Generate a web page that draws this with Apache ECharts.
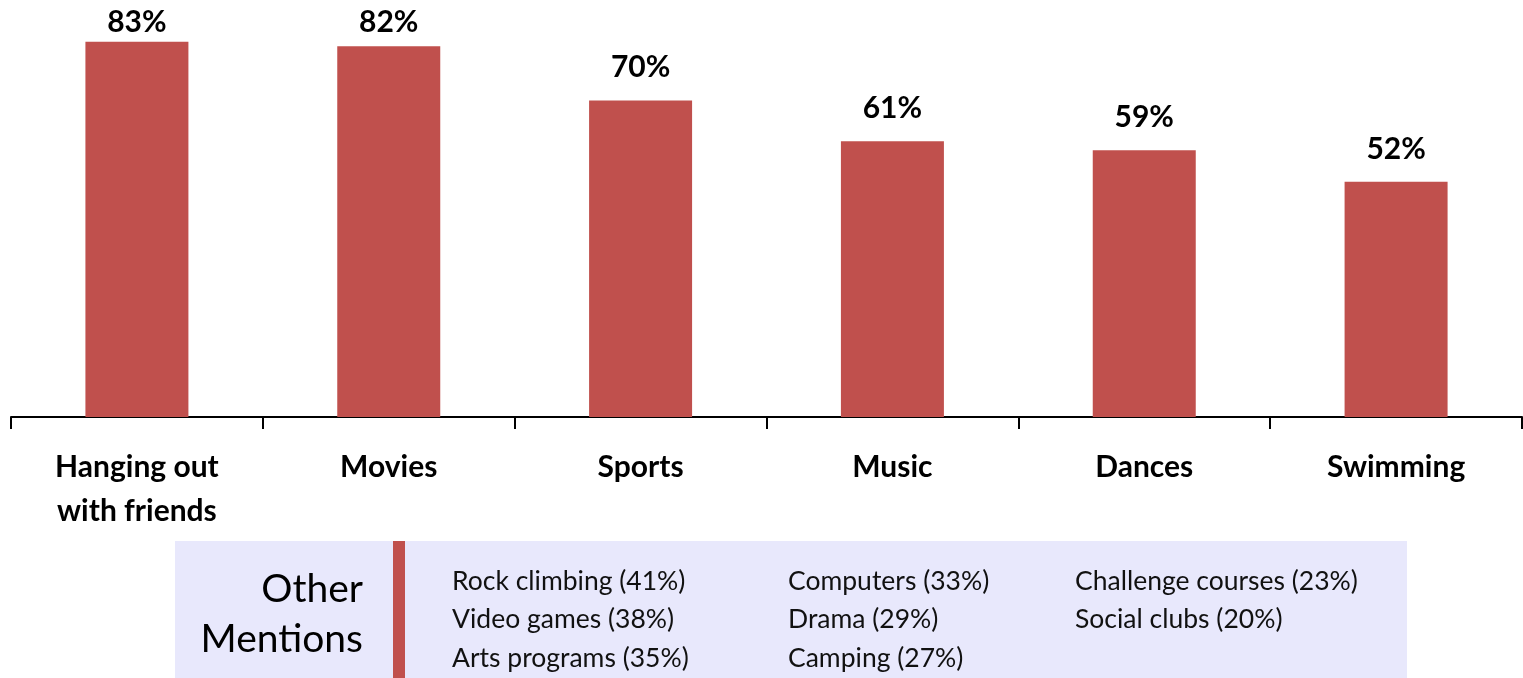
<!DOCTYPE html>
<html>
<head>
<meta charset="utf-8">
<style>
  html, body { margin: 0; padding: 0; background: #fff; }
  #chart { width: 1523px; height: 678px; }
</style>
<script src="https://cdn.jsdelivr.net/npm/echarts@6/dist/echarts.min.js"></script>
</head>
<body>
<div id="chart"></div>
<script>
// main bars
const categories = ["Hanging out\nwith friends", "Movies", "Sports", "Music", "Dances", "Swimming"];
const shares = [83, 82, 70, 61, 59, 52];

// "Other Mentions" box, one list per column
const otherTitle = ["Other", "Mentions"];
const otherCol1 = ["Rock climbing (41%)", "Video games (38%)", "Arts programs (35%)"];
const otherCol2 = ["Computers (33%)", "Drama (29%)", "Camping (27%)"];
const otherCol3 = ["Challenge courses (23%)", "Social clubs (20%)"];

const font = "Lato, 'Noto Sans', sans-serif";
const red = "#c0504d";

// plot area
const gridTop = 10, gridBottom = 261, yMax = 90;
const axisY = 678 - gridBottom;
const pxPerUnit = (axisY - gridTop) / yMax;

// value labels sit 18px above the bar, but never rise past the top of the picture
const labelDist = (v) => Math.max(4, Math.min(18, axisY - v * pxPerUnit - 15 - 22));

const colX = [452, 788, 1075];
const listText = (col, i) => ({
  type: "text",
  x: colX[i],
  y: 562,
  style: {
    text: col.join("\n"),
    font: "26.5px " + font,
    lineHeight: 38.5,
    fill: "#111",
  },
});
const titleText = (t, i) => ({
  type: "text",
  x: 363,
  y: 589 + i * 50,
  style: { text: t, font: "39px " + font, align: "right", verticalAlign: "middle", fill: "#000" },
});

const chart = echarts.init(document.getElementById("chart"));
chart.setOption({
  animation: false,
  grid: { left: 11, right: 1, top: gridTop, bottom: gridBottom },
  xAxis: {
    type: "category",
    data: categories,
    axisLine: { lineStyle: { color: "#000", width: 2 } },
    axisTick: { show: true, length: 12, lineStyle: { color: "#000", width: 2 } },
    axisLabel: {
      interval: 0,
      margin: 28,
      fontFamily: font,
      fontWeight: "bold",
      fontSize: 30,
      lineHeight: 44,
      color: "#000",
    },
  },
  yAxis: { type: "value", min: 0, max: yMax, show: false, splitLine: { show: false } },
  series: [
    {
      type: "bar",
      data: shares.map((v) => ({ value: v, label: { distance: labelDist(v) } })),
      barWidth: 103,
      itemStyle: { color: red },
      label: {
        show: true,
        position: "top",
        formatter: "{c}%",
        fontFamily: font,
        fontWeight: "bold",
        fontSize: 30,
        color: "#000",
      },
    },
  ],
  graphic: [
    { type: "rect", shape: { x: 175, y: 541, width: 1232, height: 137 }, style: { fill: "#e8e8fc" } },
    { type: "rect", shape: { x: 393, y: 541, width: 12, height: 137 }, style: { fill: red } },
    ...otherTitle.map(titleText),
    listText(otherCol1, 0),
    listText(otherCol2, 1),
    listText(otherCol3, 2),
  ],
});
</script>
</body>
</html>
